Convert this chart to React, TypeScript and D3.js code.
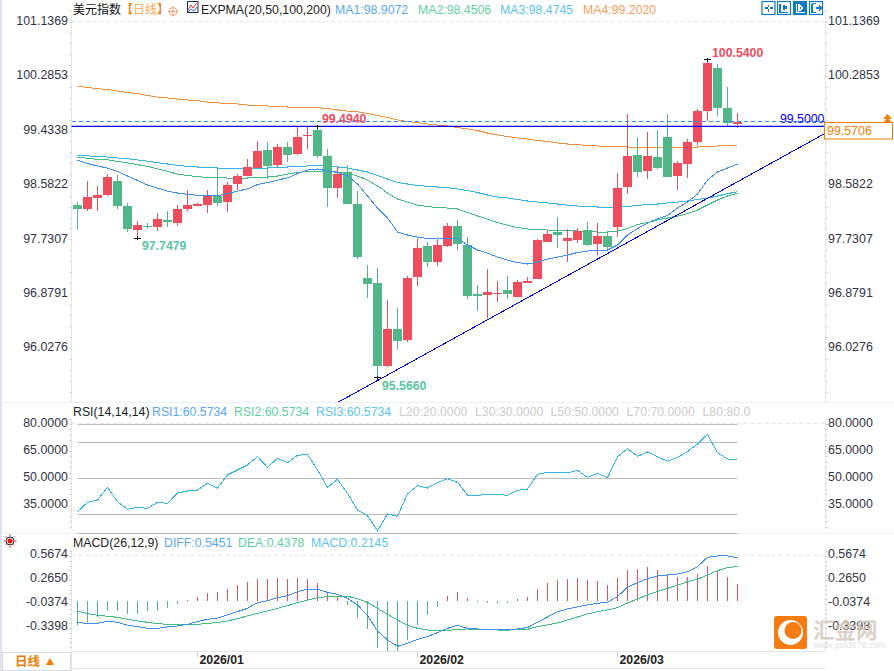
import { useMemo } from 'react';
import * as d3 from 'd3';

const opens = [98.268,98.206,98.378,98.425,98.644,98.253,97.877,97.947,97.924,98.034,97.987,98.206,98.253,98.268,98.409,98.315,98.597,98.722,98.847,99.129,98.894,99.176,99.066,99.348,99.442,99.035,98.534,98.785,98.284,97.126,97.048,95.749,96.328,96.155,97.141,97.627,97.376,97.627,97.94,97.642,96.875,96.86,96.875,96.938,96.828,97.048,97.11,97.689,97.846,97.705,97.721,97.877,97.658,97.783,97.924,98.55,99.051,98.8,99.019,99.332,98.722,98.91,99.254,99.739,100.412,99.786,99.536];
const highs = [98.315,98.644,98.566,98.753,98.738,98.3,98.018,97.987,98.143,98.174,98.268,98.503,98.3,98.503,98.863,98.628,98.753,98.988,99.27,99.254,99.223,99.254,99.505,99.505,99.494,99.145,98.863,98.894,98.487,97.329,97.282,96.782,96.656,97.157,97.736,97.689,97.721,97.987,98.034,97.767,97.016,97.267,97.079,97.157,97.095,97.141,97.736,97.877,98.081,97.893,97.908,98.002,97.987,97.861,98.769,99.692,99.332,99.411,99.442,99.692,98.957,99.301,99.771,100.54,100.475,100.115,99.708];
const lows = [97.877,98.174,98.174,98.409,98.206,97.846,97.748,97.893,97.861,97.924,97.94,98.174,98.253,98.143,98.253,98.159,98.503,98.722,98.847,98.675,98.863,98.941,99.051,99.145,99.004,98.237,98.378,98.284,97.423,96.813,95.566,95.733,96.014,96.124,97.001,97.298,97.314,97.611,97.564,96.797,96.609,96.5,96.75,96.797,96.828,97.048,97.11,97.689,97.595,97.376,97.674,97.627,97.486,97.564,97.767,98.44,98.706,98.675,98.832,98.706,98.503,98.691,99.207,99.583,99.661,99.505,99.473];
const closes = [98.206,98.393,98.425,98.706,98.253,97.893,97.955,97.932,98.049,98.002,98.206,98.268,98.284,98.425,98.3,98.581,98.722,98.863,99.113,98.879,99.176,99.051,99.332,99.364,99.035,98.534,98.753,98.284,97.454,97.032,95.749,96.328,96.14,97.126,97.595,97.376,97.642,97.94,97.658,96.844,96.844,96.907,96.891,96.875,97.063,97.079,97.721,97.814,97.799,97.752,97.861,97.642,97.783,97.611,98.534,99.035,98.785,99.035,98.847,98.706,98.926,99.254,99.739,100.491,99.786,99.552,99.571];

const ma1 = [98.968,98.918,98.879,98.847,98.793,98.722,98.652,98.581,98.534,98.487,98.456,98.436,98.422,98.417,98.414,98.448,98.487,98.519,98.589,98.62,98.659,98.691,98.761,98.816,98.832,98.8,98.777,98.722,98.597,98.409,98.221,98.065,97.846,97.799,97.767,97.744,97.736,97.744,97.752,97.642,97.564,97.517,97.454,97.407,97.368,97.345,97.376,97.423,97.454,97.486,97.525,97.548,97.556,97.564,97.642,97.799,97.9,97.987,98.049,98.104,98.221,98.315,98.44,98.659,98.785,98.847,98.907];
const ma2 = [99.015,99.0,98.983,98.976,98.952,98.926,98.9,98.871,98.832,98.793,98.753,98.73,98.711,98.702,98.695,98.691,98.691,98.691,98.699,98.706,98.722,98.753,98.777,98.793,98.8,98.8,98.785,98.769,98.722,98.659,98.566,98.456,98.362,98.315,98.268,98.245,98.229,98.221,98.206,98.151,98.096,98.049,97.994,97.955,97.916,97.893,97.885,97.877,97.877,97.869,97.861,97.854,97.846,97.846,97.861,97.9,97.963,97.994,98.034,98.065,98.096,98.135,98.19,98.268,98.347,98.409,98.451];
const ma3 = [99.046,99.038,99.027,99.019,99.005,98.993,98.973,98.954,98.93,98.91,98.889,98.874,98.863,98.852,98.847,98.843,98.843,98.844,98.847,98.847,98.855,98.863,98.871,98.879,98.879,98.879,98.863,98.847,98.816,98.785,98.73,98.675,98.62,98.597,98.573,98.561,98.55,98.539,98.519,98.495,98.464,98.425,98.393,98.378,98.354,98.331,98.315,98.3,98.284,98.268,98.253,98.245,98.237,98.237,98.237,98.245,98.261,98.276,98.284,98.3,98.315,98.331,98.354,98.378,98.409,98.448,98.475];
const ma4 = [100.131,100.107,100.088,100.076,100.052,100.029,100.013,99.982,99.958,99.943,99.927,99.912,99.901,99.88,99.869,99.854,99.849,99.833,99.825,99.818,99.81,99.802,99.794,99.794,99.791,99.778,99.755,99.739,99.728,99.7,99.669,99.638,99.599,99.575,99.556,99.536,99.52,99.505,99.481,99.458,99.434,99.395,99.364,99.34,99.317,99.301,99.278,99.262,99.239,99.223,99.215,99.199,99.192,99.184,99.184,99.176,99.176,99.176,99.176,99.168,99.168,99.168,99.176,99.184,99.192,99.199,99.202];

const rsi = [31.55,36.72,38.02,45.04,37.09,32.84,33.95,33.39,36.72,36.17,41.9,43.01,43.56,47.26,44.49,51.88,54.66,57.43,62.05,56.13,61.13,58.72,62.79,63.34,54.66,45.04,49.48,41.71,32.47,29.33,21.01,30.25,28.96,41.34,45.96,44.67,47.63,49.85,47.81,40.79,40.6,41.16,41.16,40.6,43.38,44.12,52.25,53.36,53.36,52.99,54.47,50.59,52.81,50.4,62.05,66.49,62.24,64.64,62.05,59.46,61.68,64.82,69.08,74.44,64.27,60.76,60.57];
const diff = [-0.268,-0.276,-0.276,-0.251,-0.263,-0.301,-0.318,-0.339,-0.339,-0.322,-0.309,-0.289,-0.255,-0.226,-0.213,-0.171,-0.13,-0.088,-0.017,0.008,0.046,0.071,0.121,0.151,0.151,0.113,0.088,0.038,-0.046,-0.18,-0.372,-0.485,-0.565,-0.527,-0.477,-0.443,-0.393,-0.339,-0.301,-0.339,-0.347,-0.36,-0.36,-0.36,-0.347,-0.33,-0.263,-0.197,-0.13,-0.096,-0.071,-0.046,-0.025,-0.013,0.059,0.176,0.234,0.284,0.318,0.33,0.343,0.372,0.435,0.552,0.569,0.569,0.5451];
const dea = [-0.121,-0.155,-0.176,-0.188,-0.201,-0.226,-0.247,-0.263,-0.28,-0.289,-0.293,-0.289,-0.289,-0.276,-0.268,-0.247,-0.217,-0.184,-0.151,-0.121,-0.088,-0.054,-0.017,0.013,0.046,0.059,0.063,0.063,0.033,-0.013,-0.088,-0.163,-0.234,-0.301,-0.339,-0.36,-0.368,-0.368,-0.351,-0.347,-0.355,-0.355,-0.36,-0.364,-0.351,-0.351,-0.318,-0.297,-0.272,-0.234,-0.197,-0.159,-0.13,-0.109,-0.079,-0.021,0.029,0.079,0.125,0.163,0.201,0.247,0.276,0.33,0.385,0.422,0.4378];
const macd = [-0.297,-0.259,-0.197,-0.121,-0.121,-0.159,-0.159,-0.121,-0.121,-0.084,-0.033,0.017,0.059,0.109,0.121,0.155,0.205,0.243,0.28,0.28,0.293,0.28,0.293,0.28,0.23,0.117,0.067,-0.046,-0.209,-0.347,-0.585,-0.623,-0.623,-0.485,-0.297,-0.171,-0.071,0.067,0.117,0.042,-0.008,-0.017,-0.017,-0.017,0.029,0.054,0.155,0.23,0.268,0.28,0.293,0.268,0.255,0.205,0.293,0.393,0.406,0.431,0.393,0.33,0.305,0.305,0.343,0.443,0.393,0.305,0.2145];

const priceTicks = [101.1369, 100.2853, 99.4338, 98.5822, 97.7307, 96.8791, 96.0276];
const rsiTicks = [80, 65, 50, 35];
const rsiLevels = [80, 70, 50, 30, 20];
const macdTicks = [0.5674, 0.265, -0.0374, -0.3398];
const dateTicks = [{ i: 12, label: '2026/01' }, { i: 34, label: '2026/02' }, { i: 54, label: '2026/03' }];
const supportLine = { idx: [26.1, 74.7], price: [95.185, 99.384] };
const lastPrice = 99.5706;
const hLine = 99.5;

const RED = '#ee4d5e';
const GREEN = '#52b788';
const C_MA1 = '#3b8ff0';
const C_MA2 = '#3fbf86';
const C_MA3 = '#33b5e5';
const C_MA4 = '#f5903d';
const FONT = '"Liberation Sans", Arial, sans-serif';
const CJK = '"Noto Sans CJK SC", "Liberation Sans", sans-serif';
const AXIS_TEXT = '#333344';
const L = 71.5;
const R = 825.5;

function AxisColumn({ x, top, bottom, first, step }: { x: number; top: number; bottom: number; first: number; step: number }) {
  // minor ticks along the axis line
  const n = Math.floor((bottom - first) / (step / 5));
  const side = x < 100 ? -2 : 2;
  return (
    <g>
      <line x1={x} x2={x} y1={top} y2={bottom} stroke="#e6e6e6" />
      {d3.range(-1, n + 1).map(k => {
        const yy = Math.round(first + (k * step) / 5) + 0.5;
        return <line key={k} x1={x} x2={x + side} y1={yy} y2={yy} stroke="#cfcfcf" />;
      })}
    </g>
  );
}

export default function App() {
  const x = useMemo(() => d3.scaleLinear().domain([0, 66]).range([77.5, 737.5]), []);
  const y = useMemo(() => d3.scaleLinear().domain([101.1369, 95.566]).range([21.7, 377.7]), []);
  const yRsi = useMemo(() => d3.scaleLinear().domain([80, 20]).range([424.3, 532.5]), []);
  const yMacd = useMemo(() => d3.scaleLinear().domain([0, 1]).range([601.3, 521.6]), []);

  const priceLine = d3.line<number>().x((_, i) => x(i)).y(d => y(d));
  const rsiLine = d3.line<number>().x((_, i) => x(i)).y(d => yRsi(d));
  const macdLine = d3.line<number>().x((_, i) => x(i)).y(d => yMacd(d));

  const txt = (s: string, tx: number, ty: number, fill: string, extra: any = {}) => (
    <text x={tx} y={ty} fill={fill} fontFamily={FONT} fontSize={12.3} {...extra}>{s}</text>
  );

  return (
    <svg width={894} height={671} viewBox="0 0 894 671" style={{ position: 'fixed', left: 0, top: 0, display: 'block', background: '#fff' }}>
      <defs>
        <clipPath id="main-clip"><rect x={L} y={14} width={R - L} height={388} /></clipPath>
      </defs>

      {/* frame */}
      <rect x={0} y={0} width={2} height={671} fill="#e2e2ec" />
      <line x1={2} x2={894} y1={402.5} y2={402.5} stroke="#e9f0f2" />
      <line x1={2} x2={894} y1={533.5} y2={533.5} stroke="#e9f0f2" />
      <line x1={L} x2={R} y1={651.5} y2={651.5} stroke="#e4e4e4" />
      <line x1={L} x2={R} y1={668.5} y2={668.5} stroke="#e8e8e8" />
      <line x1={L} x2={L} y1={651} y2={671} stroke="#e4e4e4" />

      <AxisColumn x={L} top={14} bottom={402} first={21.7} step={54.4} />
      <AxisColumn x={R} top={14} bottom={402} first={21.7} step={54.4} />
      <AxisColumn x={L} top={420} bottom={530} first={424} step={27} />
      <AxisColumn x={R} top={420} bottom={530} first={424} step={27} />
      <AxisColumn x={L} top={550} bottom={650} first={556} step={24} />
      <AxisColumn x={R} top={550} bottom={650} first={556} step={24} />

      {/* main pane */}
      <line x1={L} x2={R} y1={21.5} y2={21.5} stroke="#e6e6e6" strokeDasharray="4 3" />
      {priceTicks.map(t => (
        <g key={t}>
          <text x={68} y={y(t) + 3.2} textAnchor="end" fill={AXIS_TEXT} fontFamily={FONT} fontSize={12.4}>{t.toFixed(4)}</text>
          <text x={828} y={y(t) + 3.2} fill={AXIS_TEXT} fontFamily={FONT} fontSize={12.4}>{t.toFixed(4)}</text>
        </g>
      ))}

      <g shapeRendering="crispEdges">
        <path d={priceLine(ma4) || ''} fill="none" stroke={C_MA4} />
        <path d={priceLine(ma3) || ''} fill="none" stroke={C_MA3} />
        <path d={priceLine(ma2) || ''} fill="none" stroke={C_MA2} />
      </g>

      {closes.map((c, i) => {
        const up = c >= opens[i];
        const col = up ? RED : GREEN;
        const cx = x(i);
        const top = y(Math.max(opens[i], c));
        const bot = y(Math.min(opens[i], c));
        return (
          <g key={i} shapeRendering="crispEdges">
            <rect x={cx - 0.5} width={1} y={y(highs[i])} height={y(lows[i]) - y(highs[i])} fill={col} />
            <rect x={cx - 4.5} width={9} y={top} height={Math.max(bot - top, 1)} fill={col} />
          </g>
        );
      })}

      <path d={priceLine(ma1) || ''} fill="none" stroke={C_MA1} shapeRendering="crispEdges" />

      <line x1={L} x2={R} y1={y(lastPrice)} y2={y(lastPrice)} stroke="#1e90ff" strokeDasharray="4 3" shapeRendering="crispEdges" />
      <line x1={L} x2={R} y1={y(hLine)} y2={y(hLine)} stroke="#0000ff" strokeWidth={1.3} />
      <line
        clipPath="url(#main-clip)"
        x1={x(supportLine.idx[0])} y1={y(supportLine.price[0])}
        x2={x(supportLine.idx[1])} y2={y(supportLine.price[1])}
        stroke="#0000e6" shapeRendering="crispEdges"
      />

      {/* high / low marks */}
      {[{ i: 63, v: 100.54 }, { i: 24, v: 99.494 }, { i: 6, v: 97.7479 }, { i: 30, v: 95.566 }].map(m => (
        <path key={m.i} d={`M${x(m.i) - 3.5},${y(m.v)}h7M${x(m.i)},${y(m.v) - 2}v4`} stroke="#111" fill="none" shapeRendering="crispEdges" />
      ))}
      {txt('100.5400', 712, 57, RED, { fontWeight: 700 })}
      {txt('99.4940', 322, 123, RED, { fontWeight: 700 })}
      {txt('97.7479', 142, 250, '#5cc4a0', { fontWeight: 700 })}
      {txt('95.5660', 382, 390, '#5cc4a0', { fontWeight: 700 })}
      {txt('99.5000', 780, 123, '#0000ff')}

      <rect x={824.5} y={122.5} width={68} height={16.5} fill="#fff" stroke="#f57c00" />
      {txt('99.5706', 827, 135, '#f57c00', { fontSize: 12.4 })}
      <path d="M883,119h9l-4.5,-5zM883,123h9l-4.5,-5z" fill="#f57c00" />

      {/* main title */}
      <text x={73} y={14} fontFamily={CJK} fontSize={12} fill="#111">美元指数</text>
      <text x={121} y={14} fontFamily={CJK} fontSize={12} fill="#f57c00">【<tspan fill="#ffa64d">日线</tspan>】</text>
      <g fill="none" stroke="#f0905a" strokeWidth={0.8}>
        <circle cx={173} cy={11.5} r={4} />
        <path d="M168,11.5h10M173,6.5v10" />
      </g>
      <rect x={187.5} y={1.5} width={10.5} height={11} fill="#fff" stroke="#1a2a6c" />
      <path d="M188,10l3,-5l2,3l4,-5" fill="none" stroke="#e33" />
      <path d="M188,12l3,-3l3,2l3,-4" fill="none" stroke="#26c" />
      {txt('EXPMA(20,50,100,200)', 201, 14, '#222')}
      {txt('MA1:98.9072', 335, 14, '#5ba8f5')}
      {txt('MA2:98.4506', 418, 14, '#62cfa0')}
      {txt('MA3:98.4745', 500, 14, '#5cc4f0')}
      {txt('MA4:99.2020', 583, 14, '#f5a060')}

      {/* tool buttons */}
      {[762, 777.5, 793.5, 809.5].map((bx, k) => (
        <g key={k}>
          <rect x={bx} y={1.5} width={13} height={13} fill={k === 2 ? '#1479c4' : '#fff'} stroke="#1479c4" strokeWidth={1.2} />
          <path
            d={['M765,8h2.5M770,8h2.5M768.5,4.5v2.5M768.5,9v2.5', 'M780,4v8.5h8M784,4.5v5M786,6v3', 'M796.5,3.5v9h8M799,5v6l4,-3z', 'M812,3.5v9M812,3.5h4M812,12.5h4M816,8h4M819,5.5l2.5,2.5l-2.5,2.5'][k]}
            stroke={k === 2 ? '#fff' : '#1479c4'} strokeWidth={1.4} fill="none" shapeRendering="crispEdges"
          />
        </g>
      ))}

      {/* RSI pane */}
      {txt('RSI(14,14,14)', 73, 416, '#222')}
      {txt('RSI1:60.5734', 152, 416, '#5ba8f5')}
      {txt('RSI2:60.5734', 234, 416, '#62cfa0')}
      {txt('RSI3:60.5734', 316, 416, '#5cc4f0')}
      {txt('L20:20.0000', 399, 416, '#cccccc')}
      {txt('L30:30.0000', 475, 416, '#cccccc')}
      {txt('L50:50.0000', 550.5, 416, '#cccccc')}
      {txt('L70:70.0000', 626.5, 416, '#cccccc')}
      {txt('L80:80.0', 702.5, 416, '#cccccc')}
      <line x1={L} x2={R} y1={423.5} y2={423.5} stroke="#e6e6e6" strokeDasharray="4 3" />
      {rsiLevels.map(l => (
        <line key={l} x1={x(0)} x2={x(66)} y1={Math.round(yRsi(l)) + 0.5} y2={Math.round(yRsi(l)) + 0.5} stroke="#bdbdbd" />
      ))}
      {rsiTicks.map(t => (
        <g key={t}>
          <text x={68} y={yRsi(t) + 2.6} textAnchor="end" fill={AXIS_TEXT} fontFamily={FONT} fontSize={12.4}>{t.toFixed(4)}</text>
          <text x={828} y={yRsi(t) + 2.6} fill={AXIS_TEXT} fontFamily={FONT} fontSize={12.4}>{t.toFixed(4)}</text>
        </g>
      ))}
      <path d={rsiLine(rsi) || ''} fill="none" stroke={C_MA3} shapeRendering="crispEdges" />

      {/* MACD pane */}
      <g fill="none">
        <circle cx={10} cy={541} r={2.5} fill="#e11" />
        <circle cx={10} cy={541} r={4} stroke="#222" />
        <path d="M10,534.5v1.5M10,546v1.5M3.5,541h1.5M15,541h1.5M5.5,536.5l1,1M14.5,536.5l-1,1M5.5,545.5l1,-1M14.5,545.5l-1,-1" stroke="#e11" />
      </g>
      {txt('MACD(26,12,9)', 73, 547, '#222')}
      {txt('DIFF:0.5451', 164, 547, '#5ba8f5')}
      {txt('DEA:0.4378', 238, 547, '#62cfa0')}
      {txt('MACD:0.2145', 311, 547, '#5cc4f0')}
      <line x1={L} x2={R} y1={555.5} y2={555.5} stroke="#e6e6e6" strokeDasharray="4 3" />
      {macdTicks.map(t => (
        <g key={t}>
          <text x={68} y={yMacd(t) + 2} textAnchor="end" fill={AXIS_TEXT} fontFamily={FONT} fontSize={12.4}>{t.toFixed(4)}</text>
          <text x={828} y={yMacd(t) + 2} fill={AXIS_TEXT} fontFamily={FONT} fontSize={12.4}>{t.toFixed(4)}</text>
        </g>
      ))}
      {macd.map((m, i) => (
        <rect key={i} x={x(i) - 0.5} width={1} y={Math.min(yMacd(m), yMacd(0))} height={Math.abs(yMacd(m) - yMacd(0))} fill={m >= 0 ? RED : GREEN} shapeRendering="crispEdges" />
      ))}
      <path d={macdLine(dea) || ''} fill="none" stroke={C_MA2} shapeRendering="crispEdges" />
      <path d={macdLine(diff) || ''} fill="none" stroke={C_MA1} shapeRendering="crispEdges" />

      {/* date axis */}
      {dateTicks.map(d => (
        <g key={d.label}>
          <line x1={x(d.i)} x2={x(d.i)} y1={652} y2={657} stroke="#ccc" />
          <text x={x(d.i) + 2} y={664} fontFamily={FONT} fontSize={12.3} fontWeight={700} fill="#222">{d.label}</text>
        </g>
      ))}

      {/* period button */}
      <rect x={2.5} y={652.5} width={68} height={18} fill="#fff" stroke="#d6dce4" />
      <text x={15} y={666} fontFamily={CJK} fontSize={12.5} fontWeight={700} fill="#f57c00">日线</text>
      <path d="M46,665l4,-7l4,7z" fill="#f57c00" />

      {/* watermark */}
      <rect x={774} y={616} width={33} height={33} rx={3} fill="#f57c10" />
      <circle cx={790.5} cy={632.5} r={12.5} fill="#fff" />
      <circle cx={793} cy={630.5} r={8.5} fill="#f57c10" />
      <text x={813} y={638} fontFamily={CJK} fontSize={21.5} fontWeight={700} fill="#d4c8bc" opacity={0.8}>汇金网</text>
      <text x={813} y={648} fontFamily={FONT} fontSize={9} fill="#e2e2e2">www.gold678.com</text>
    </svg>
  );
}
